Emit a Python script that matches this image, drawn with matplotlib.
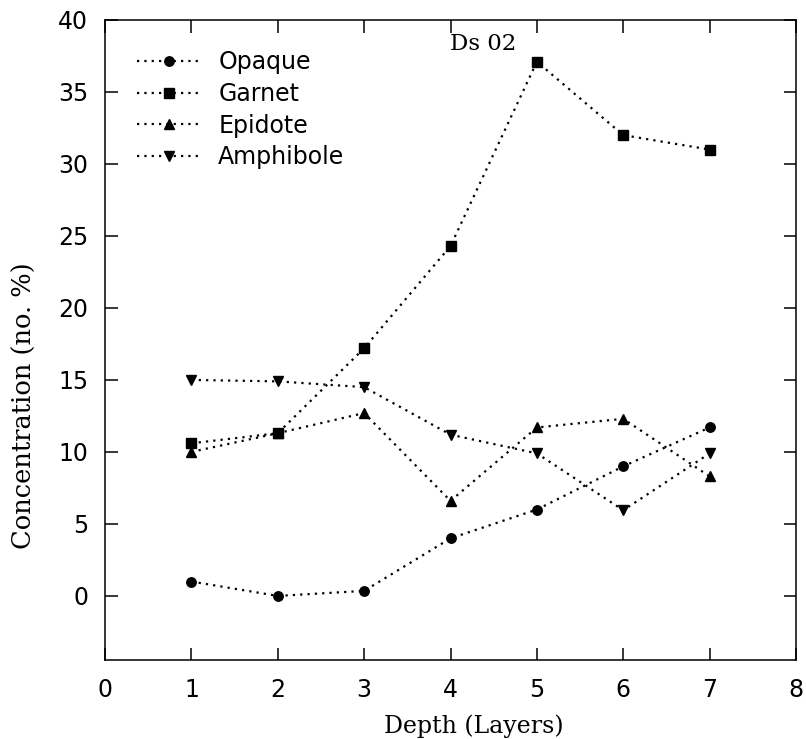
import matplotlib.pyplot as plt
import numpy as np

# heavy mineral counts per layer, core Ds 02
layers = [1, 2, 3, 4, 5, 6, 7]
opaque = [1.0, 0.0, 0.35, 4.0, 6.0, 9.0, 11.7]
garnet = [10.6, 11.3, 17.2, 24.3, 37.1, 32.0, 31.0]
epidote = [10.0, 11.3, 12.7, 6.6, 11.7, 12.3, 8.3]
amphibole = [15.0, 14.9, 14.5, 11.2, 9.9, 5.95, 9.9]

series = [('Opaque', opaque, 'o'),
          ('Garnet', garnet, 's'),
          ('Epidote', epidote, '^'),
          ('Amphibole', amphibole, 'v')]

fig = plt.figure(figsize=(8.06, 7.39), dpi=100)
ax = fig.add_axes([0.1303, 0.1069, 0.8573, 0.8661])

for name, vals, mk in series:
    ax.plot(layers, vals, color='black', linestyle=(0, (1, 2.3)), linewidth=1.6,
            marker=mk, markersize=6.8, label=name)

ax.set_xlim(0, 8)
ax.set_ylim(-4.45, 40)
ax.set_xticks(np.arange(0, 9, 1))
ax.set_yticks(np.arange(0, 41, 5))

ax.tick_params(direction='in', length=9, width=1.1, top=True, right=True,
               labelsize=17)
ax.tick_params(axis='x', pad=13)
ax.tick_params(axis='y', pad=12)
for sp in ax.spines.values():
    sp.set_linewidth(1.1)

ax.set_xlabel('Depth (Layers)', family='DejaVu Serif', fontsize=17)
ax.set_ylabel('Concentration (no. %)', family='DejaVu Serif', fontsize=18.5)
ax.xaxis.set_label_coords(0.533, -0.085)
ax.yaxis.set_label_coords(-0.098, 0.398)

ax.text(3.99, 38.3, 'Ds 02', family='DejaVu Serif', fontsize=16.5,
        ha='left', va='center')

leg = ax.legend(loc='upper left', bbox_to_anchor=(0.046, 0.953), frameon=False,
                prop={'family': 'DejaVu Sans', 'size': 17},
                handlelength=2.75, handletextpad=0.7, labelspacing=0.33,
                borderpad=0, borderaxespad=0, numpoints=1)

fig.savefig('out.png', dpi=100)
